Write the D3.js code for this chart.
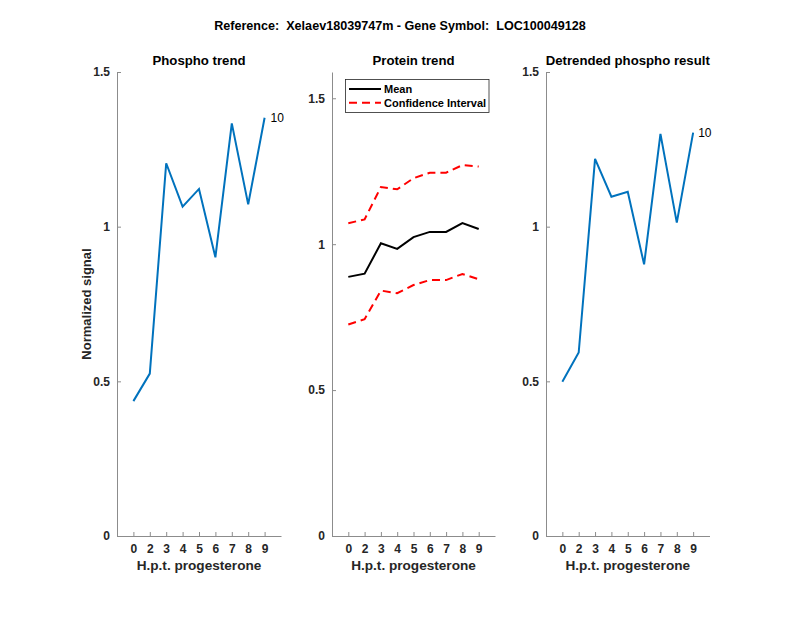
<!DOCTYPE html>
<html><head><meta charset="utf-8">
<script src="https://cdn.jsdelivr.net/npm/d3@7"></script>
<style>body{margin:0;background:#fff}svg{display:block}text{font-family:"Liberation Sans",Arial,sans-serif}</style>
</head><body><svg id="c" width="800" height="618"></svg>
<script>
const categories = ["0","2","3","4","5","6","7","8","9"];
const phospho = [0.436,0.525,1.205,1.065,1.122,0.901,1.334,1.072,1.352];
const proteinMean = [0.888,0.899,1.003,0.984,1.024,1.042,1.042,1.072,1.052];
const ciUpper = [1.072,1.085,1.196,1.188,1.226,1.245,1.245,1.271,1.266];
const ciLower = [0.725,0.743,0.841,0.832,0.860,0.877,0.877,0.898,0.880];
const detrended = [0.499,0.593,1.219,1.097,1.113,0.878,1.300,1.013,1.304];
const yTicks = [0,0.5,1,1.5];
const endLabel = "10";

const svg = d3.select("#c");
const axisCol = "#8c8c8c", textCol = "#262626";
const yTop = 72, yBot = 536;

svg.append("text").attr("x",400).attr("y",30).attr("text-anchor","middle")
  .style("white-space","pre").attr("xml:space","preserve")
  .attr("font-size",12.6).attr("font-weight","bold").attr("fill","#000")
  .text("Reference:  Xelaev18039747m - Gene Symbol:  LOC100049128");

function panel(x0, x1, ymax, title){
  const x = d3.scaleLinear().domain([0, categories.length+1]).range([x0, x1]);
  const y = d3.scaleLinear().domain([0, ymax]).range([yBot, yTop]);
  const g = svg.append("g");
  const ya = g.append("g").attr("transform",`translate(${x0},0)`)
    .call(d3.axisLeft(y).tickValues(yTicks).tickFormat(d=>String(d)).tickSizeInner(-4).tickSizeOuter(0).tickPadding(7));
  const xa = g.append("g").attr("transform",`translate(0,${yBot})`)
    .call(d3.axisBottom(x).tickValues(categories.map((c,i)=>i+1)).tickFormat((d,i)=>categories[i]).tickSizeInner(-4).tickSizeOuter(0).tickPadding(8));
  [ya,xa].forEach(a=>{
    a.select(".domain").attr("stroke",axisCol);
    a.selectAll(".tick line").attr("stroke",axisCol);
    a.selectAll("text").attr("fill",textCol).attr("font-size",12).attr("font-weight","bold")
      .attr("font-family",'"Liberation Sans",Arial,sans-serif');
  });
  g.append("text").attr("x",(x0+x1)/2).attr("y",570).attr("text-anchor","middle")
    .attr("font-size",13.6).attr("font-weight","bold").attr("fill",textCol).text("H.p.t. progesterone");
  g.append("text").attr("x",(x0+x1)/2).attr("y",65).attr("text-anchor","middle")
    .attr("font-size",13.2).attr("font-weight","bold").attr("fill","#000").text(title);
  return {g,x,y};
}

function drawLine(p, data, color, dash){
  const line = d3.line().x((d,i)=>p.x(i+1)).y(d=>p.y(d));
  p.g.append("path").datum(data).attr("d",line).attr("fill","none")
    .attr("stroke",color).attr("stroke-width",2).attr("stroke-dasharray",dash||null)
    .attr("stroke-linejoin","miter");
}

const p1 = panel(117, 281, 1.5, "Phospho trend");
drawLine(p1, phospho, "#0072BD");
p1.g.append("text").attr("x",p1.x(categories.length)+6).attr("y",p1.y(phospho[phospho.length-1])+4.5)
  .attr("font-size",12).attr("fill","#000").text(endLabel);
svg.append("text").attr("transform","translate(91,304) rotate(-90)").attr("text-anchor","middle")
  .attr("font-size",13).attr("font-weight","bold").attr("fill",textCol).text("Normalized signal");

const p2 = panel(332, 495, 1.59, "Protein trend");
drawLine(p2, ciUpper, "#FF0000", "8,5");
drawLine(p2, ciLower, "#FF0000", "8,5");
drawLine(p2, proteinMean, "#000000");
const lg = p2.g.append("g");
lg.append("rect").attr("x",345.5).attr("y",79.5).attr("width",143.5).attr("height",33)
  .attr("fill","#fff").attr("stroke","#262626").attr("stroke-width",0.8);
lg.append("line").attr("x1",349).attr("x2",381).attr("y1",89).attr("y2",89).attr("stroke","#000").attr("stroke-width",2);
lg.append("line").attr("x1",349).attr("x2",381).attr("y1",102.7).attr("y2",102.7).attr("stroke","#FF0000").attr("stroke-width",2).attr("stroke-dasharray","8,5");
lg.append("text").attr("x",384).attr("y",93).attr("font-size",11).attr("font-weight","bold").attr("fill","#000").text("Mean");
lg.append("text").attr("x",384).attr("y",107).attr("font-size",11).attr("font-weight","bold").attr("fill","#000").text("Confidence Interval");

const p3 = panel(546, 709.5, 1.5, "Detrended phospho result");
drawLine(p3, detrended, "#0072BD");
p3.g.append("text").attr("x",p3.x(categories.length)+5).attr("y",p3.y(detrended[detrended.length-1])+4.5)
  .attr("font-size",12).attr("fill","#000").text(endLabel);
</script></body></html>
